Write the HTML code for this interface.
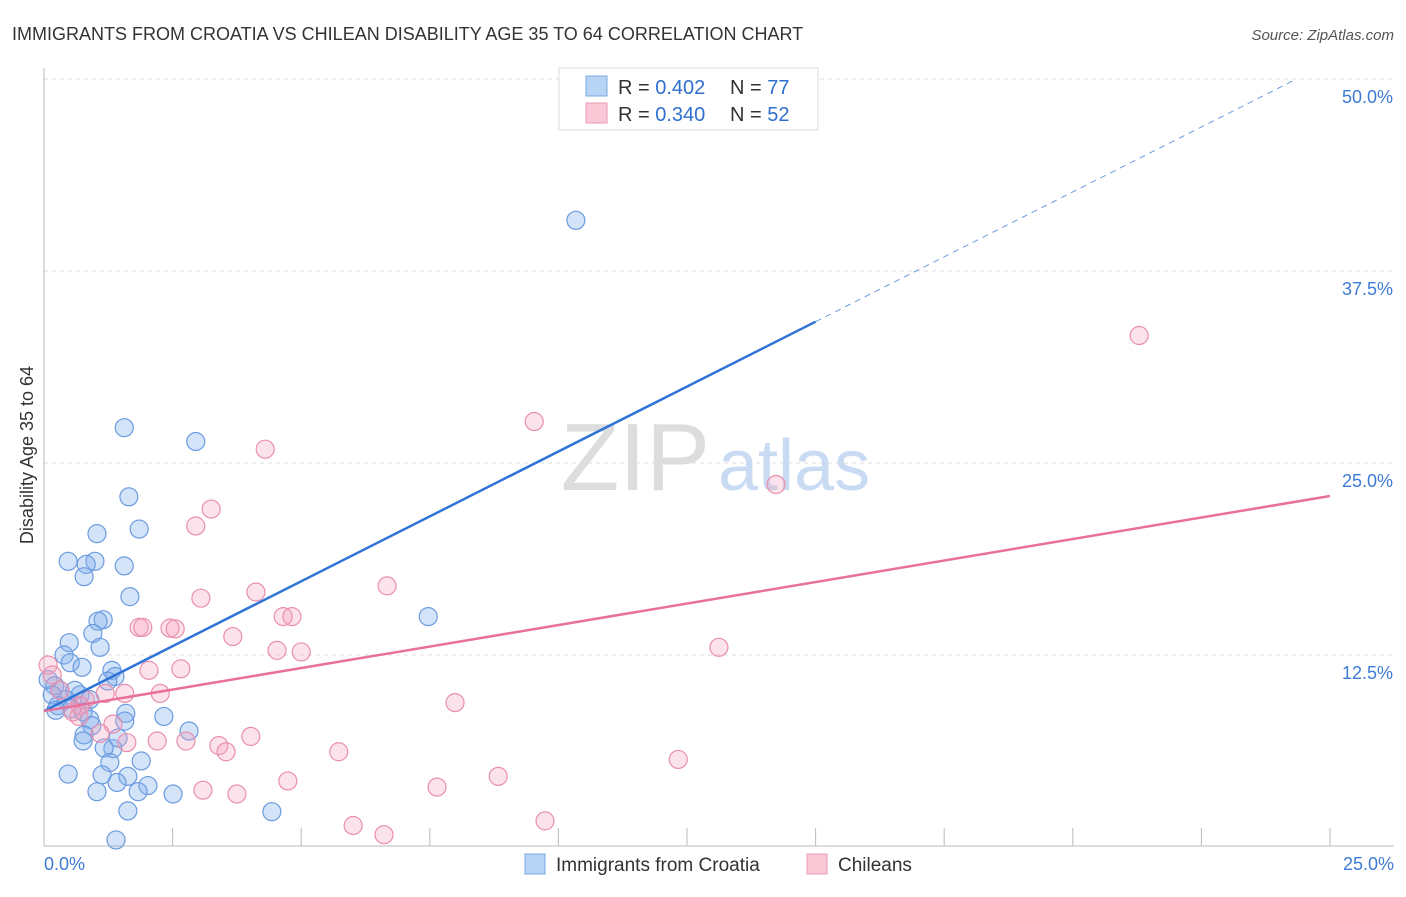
<!DOCTYPE html>
<html><head><meta charset="utf-8"><style>
body{margin:0;background:#fff;font-family:"Liberation Sans",sans-serif;}
svg text{font-family:"Liberation Sans",sans-serif;}
</style></head><body>
<svg width="1406" height="892">
<text x="12" y="40" font-size="18" fill="#333">IMMIGRANTS FROM CROATIA VS CHILEAN DISABILITY AGE 35 TO 64 CORRELATION CHART</text>
<text x="1394" y="40" font-size="15" fill="#555" text-anchor="end" font-style="italic">Source: ZipAtlas.com</text>
<g id="grid"></g>
<text x="710" y="490" font-size="96" fill="#ddd" text-anchor="end" font-family="Liberation Serif">ZIP</text>
<text x="718" y="490" font-size="72" fill="#c9dbf3">atlas</text>
<g id="axes"></g>
<g id="marks"></g>
<text x="33" y="455" font-size="18" fill="#333" text-anchor="middle" transform="rotate(-90 33 455)">Disability Age 35 to 64</text>
<g>
<rect x="559" y="68" width="259" height="62" fill="#fff" stroke="#ddd"/>
<rect x="586" y="76" width="21" height="20" fill="#b8d4f5" stroke="#7aa8e4"/>
<rect x="586" y="103" width="21" height="20" fill="#fbc8d7" stroke="#eb9ab3"/>
<text x="618" y="94" font-size="20" fill="#333">R = <tspan fill="#2f6fce">0.402</tspan></text>
<text x="730" y="94" font-size="20" fill="#333">N = <tspan fill="#2f6fce">77</tspan></text>
<text x="618" y="121" font-size="20" fill="#333">R = <tspan fill="#2f6fce">0.340</tspan></text>
<text x="730" y="121" font-size="20" fill="#333">N = <tspan fill="#2f6fce">52</tspan></text>
</g>
<g>
<rect x="525" y="854" width="20" height="20" fill="#b8d4f5" stroke="#7aa8e4"/>
<text x="556" y="871" font-size="19" fill="#333">Immigrants from Croatia</text>
<rect x="807" y="854" width="20" height="20" fill="#fbc8d7" stroke="#eb9ab3"/>
<text x="838" y="871" font-size="19" fill="#333">Chileans</text>
</g>
</svg>
<script>
const yTicks=[12.5,25.0,37.5,50.0];
const yTickLabels=["12.5%","25.0%","37.5%","50.0%"];
const xTickLabels=["0.0%","25.0%"];
const blueX=[10.34,1.56,2.95,1.65,1.85,1.03,0.47,0.99,0.82,1.56,0.78,1.67,7.47,1.15,1.05,0.95,0.49,1.09,0.39,0.51,0.74,1.32,1.38,1.24,0.08,0.21,0.31,0.16,0.6,0.7,0.43,0.27,0.54,0.89,0.23,0.76,2.33,1.59,1.57,0.89,0.93,2.82,0.78,0.76,1.34,1.17,1.44,1.89,1.28,1.13,0.47,1.63,1.42,2.02,1.83,1.03,2.51,1.63,4.43,1.40];
const blueY=[40.8,27.3,26.4,22.8,20.7,20.4,18.6,18.6,18.4,18.3,17.6,16.3,15.0,14.8,14.7,13.9,13.3,13.0,12.5,12.0,11.7,11.5,11.1,10.8,10.9,10.5,10.2,9.9,10.2,9.9,9.6,9.2,9.0,9.6,8.9,8.8,8.5,8.7,8.2,8.3,7.9,7.55,7.3,6.9,6.4,6.45,7.1,5.6,5.5,4.7,4.75,4.6,4.2,4.0,3.6,3.6,3.45,2.35,2.3,0.46];
const pinkX=[21.29,9.53,4.30,14.23,3.25,2.95,6.67,3.05,4.12,4.65,4.82,1.85,1.92,2.45,2.55,3.67,4.53,5.0,13.12,2.04,2.66,0.08,0.16,2.26,1.57,1.19,7.99,0.8,0.7,0.56,0.31,0.68,1.34,1.09,2.2,1.61,2.76,4.02,3.4,3.54,5.73,12.33,8.83,4.74,7.64,3.09,3.75,9.74,6.01,6.61];
const pinkY=[33.3,27.7,25.9,23.6,22.0,20.9,17.0,16.2,16.6,15.0,15.0,14.3,14.3,14.25,14.2,13.7,12.8,12.7,13.0,11.5,11.6,11.85,11.2,10.0,10.0,10.0,9.4,9.6,9.2,8.8,10.2,8.5,8.0,7.4,6.9,6.8,6.9,7.2,6.6,6.2,6.2,5.7,4.6,4.3,3.9,3.7,3.45,1.7,1.4,0.8];
const blueLine=[8.85,1.69];   // intercept, slope
const pinkLine=[8.85,0.56];
const NS="http://www.w3.org/2000/svg";
const X=v=>44+v/25*1286, Y=v=>847-v/12.5*192;
function mk(tag,attrs,parent){const e=document.createElementNS(NS,tag);for(const k in attrs)e.setAttribute(k,attrs[k]);document.getElementById(parent).appendChild(e);return e;}
yTicks.forEach((t,i)=>{
 const l=mk('line',{x1:44,x2:1394,y1:Y(t),y2:Y(t),stroke:'#ddd','stroke-dasharray':'4,4'},'grid');
 
 
 const tx=mk('text',{x:1393,y:Y(t)+24,'font-size':18,fill:'#3d7bd6','text-anchor':'end'},'axes');
 tx.textContent=yTickLabels[i];
 
 
});
let ax=mk('line',{x1:44,x2:44,y1:68,y2:846,stroke:'#bbb'},'axes');


ax=mk('line',{x1:44,x2:1394,y1:846,y2:846,stroke:'#bbb'},'axes');


for(let i=1;i<=10;i++){const tk=mk('line',{x1:X(i*2.5),x2:X(i*2.5),y1:828,y2:846,stroke:'#bbb'},'axes');
 
 }
[[0,'start',44],[1,'end',1394]].forEach(([i,a,x])=>{const t=mk('text',{x:x,y:870,'font-size':18,fill:'#3d7bd6','text-anchor':a},'axes');t.textContent=xTickLabels[i];
 
 });
function pts(xs,ys,fill,stroke,name){xs.forEach((x,i)=>{const c=mk('circle',{cx:X(x),cy:Y(ys[i]),r:9,fill:fill,stroke:stroke,'stroke-width':1.2},'marks');
 
 });}
pts(blueX,blueY,'rgba(130,175,235,0.35)','#6b9be0','point-croatia');
pts(pinkX,pinkY,'rgba(245,160,190,0.3)','#e98fae','point-chileans');
let ln=mk('line',{x1:X(0),y1:Y(blueLine[0]),x2:X(15),y2:Y(blueLine[0]+blueLine[1]*15),stroke:'#2f74d6','stroke-width':2.5},'marks');


const xe=(50-blueLine[0])/blueLine[1];
ln=mk('line',{x1:X(15),y1:Y(blueLine[0]+blueLine[1]*15),x2:X(xe),y2:Y(50),stroke:'#6b9be0','stroke-width':1,'stroke-dasharray':'6,5'},'marks');


ln=mk('line',{x1:X(0),y1:Y(pinkLine[0]),x2:X(25),y2:Y(pinkLine[0]+pinkLine[1]*25),stroke:'#e8709a','stroke-width':2.5},'marks');


</script>
</body></html>
